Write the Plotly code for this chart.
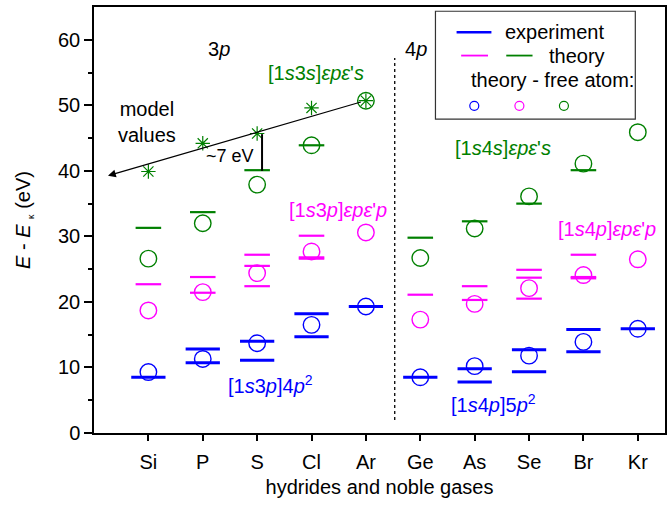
import plotly.graph_objects as go

elements = ["Si", "P", "S", "Cl", "Ar", "Ge", "As", "Se", "Br", "Kr"]

# experiment [1snp](n+1)p^2 levels (blue bars)
exp_levels = [[8.5], [12.8, 10.7], [14.0, 11.1], [18.2, 14.7], [19.3],
              [8.5], [9.8, 7.8], [12.7, 9.35], [15.8, 12.4], [15.9]]
# theory [1snp] eps p eps' p (magenta bars)
thp_levels = [[22.7], [23.8, 21.4], [27.2, 25.5, 22.4], [30.1, 26.8, 26.6], [],
              [21.1], [22.4, 20.3], [24.9, 23.7, 20.5], [27.2, 23.8, 23.6], []]
# theory [1sns] eps p eps' s (green bars)
ths_levels = [[31.3], [33.7], [40.1], [43.9], [],
              [29.8], [32.3], [35.0], [40.1], []]

# free-atom theory (circles)
free_blue = [9.3, 11.3, 13.7, 16.5, 19.3, 8.5, 10.2, 11.8, 13.9, 15.9]
free_magenta = [18.7, 21.5, 24.4, 27.7, 30.6, 17.3, 19.7, 22.1, 24.1, 26.5]
free_green = [26.6, 32.0, 37.9, 43.9, 50.7, 26.7, 31.2, 36.1, 41.1, 45.9]

# model values (asterisks) for 3p row
model_elements = ["Si", "P", "S", "Cl", "Ar"]
model_values = [39.9, 44.2, 45.7, 49.6, 50.7]

BLUE = "#0000ff"
MAG = "#ff00ff"
GREEN = "#008000"
FONT = "Liberation Sans, Arial, sans-serif"

xpos = {e: i + 1 for i, e in enumerate(elements)}

def seg_xy(levels, hw):
    xs, ys = [], []
    for e, lv in zip(elements, levels):
        c = xpos[e]
        for v in lv:
            xs += [c - hw, c + hw, None]
            ys += [v, v, None]
    return xs, ys

fig = go.Figure()

for levels, col, hw, lw in [(exp_levels, BLUE, 0.315, 3),
                            (thp_levels, MAG, 0.235, 2.2),
                            (ths_levels, GREEN, 0.235, 2.2)]:
    xs, ys = seg_xy(levels, hw)
    fig.add_trace(go.Scatter(x=xs, y=ys, mode="lines",
                             line=dict(color=col, width=lw),
                             showlegend=False, hoverinfo="skip"))

for vals, col in [(free_blue, BLUE), (free_magenta, MAG), (free_green, GREEN)]:
    fig.add_trace(go.Scatter(x=[xpos[e] for e in elements], y=vals, mode="markers",
                             marker=dict(symbol="circle-open", size=16.5,
                                         color=col, line=dict(color=col, width=1.4)),
                             showlegend=False, hoverinfo="skip"))

fig.add_trace(go.Scatter(x=[xpos[e] for e in model_elements], y=model_values,
                         mode="markers",
                         marker=dict(symbol="asterisk-open", size=12,
                                     color=GREEN, line=dict(color=GREEN, width=1.2)),
                         showlegend=False, hoverinfo="skip"))

shapes = []
# dotted separator
shapes.append(dict(type="line", xref="x", yref="y", x0=5.53, x1=5.53, y0=2.0, y1=57.2,
                   line=dict(color="black", width=1.3, dash="dot")))
# ~7 eV bracket
shapes.append(dict(type="line", xref="x", yref="y", x0=3.09, x1=3.09, y0=40.0, y1=45.6,
                   line=dict(color="black", width=2)))

# legend box (paper coords)
shapes.append(dict(type="rect", xref="paper", yref="paper", x0=0.598, x1=0.948,
                   y0=0.737, y1=0.990, line=dict(color="#333333", width=1.2),
                   fillcolor="white"))
shapes.append(dict(type="line", xref="paper", yref="paper", x0=0.635, x1=0.696,
                   y0=0.941, y1=0.941, line=dict(color=BLUE, width=2.5)))
shapes.append(dict(type="line", xref="paper", yref="paper", x0=0.643, x1=0.690,
                   y0=0.886, y1=0.886, line=dict(color=MAG, width=1.8)))
shapes.append(dict(type="line", xref="paper", yref="paper", x0=0.722, x1=0.768,
                   y0=0.886, y1=0.886, line=dict(color=GREEN, width=1.8)))
for cx, col in [(0.666, BLUE), (0.745, MAG), (0.823, GREEN)]:
    shapes.append(dict(type="circle", xref="paper", yref="paper",
                       xsizemode="pixel", ysizemode="pixel",
                       xanchor=cx, yanchor=0.768, x0=-4.5, x1=4.5, y0=-4.5, y1=4.5,
                       line=dict(color=col, width=1.2)))

eps = "<i>ε</i>"
ann = []
def txt(x, y, s, col="black", size=20, xanchor="center", xref="x", yref="y"):
    ann.append(dict(x=x, y=y, xref=xref, yref=yref, text=s, showarrow=False,
                    xanchor=xanchor, yanchor="middle",
                    font=dict(family=FONT, size=size, color=col)))

txt(2.29, 58.6, "3<i>p</i>")
txt(5.93, 58.6, "4<i>p</i>")
txt(4.08, 55.0, "[1<i>s</i>3<i>s</i>]" + eps + "<i>p</i>" + eps + "'<i>s</i>", GREEN)
txt(7.53, 43.5, "[1<i>s</i>4<i>s</i>]" + eps + "<i>p</i>" + eps + "'<i>s</i>", GREEN)
txt(4.48, 34.1, "[1<i>s</i>3<i>p</i>]" + eps + "<i>p</i>" + eps + "'<i>p</i>", MAG)
txt(9.43, 31.2, "[1<i>s</i>4<i>p</i>]" + eps + "<i>p</i>" + eps + "'<i>p</i>", MAG)
txt(3.25, 7.4, "[1<i>s</i>3<i>p</i>]4<i>p</i><sup>2</sup>", BLUE)
txt(7.34, 4.5, "[1<i>s</i>4<i>p</i>]5<i>p</i><sup>2</sup>", BLUE)
txt(0.41, 47.5, "model<br>values", xanchor="left")
txt(2.98, 42.3, "~7 eV", size=18, xanchor="right")

# legend texts
txt(0.717, 0.941, "experiment", xanchor="left", xref="paper", yref="paper")
txt(0.794, 0.886, "theory", xanchor="left", xref="paper", yref="paper")
txt(0.656, 0.829, "theory - free atom:", xanchor="left", xref="paper", yref="paper")

# arrow for model values trend
ann.append(dict(x=0.257, y=39.25, ax=4.99, ay=50.7, xref="x", yref="y",
                axref="x", ayref="y", showarrow=True, arrowhead=2, arrowsize=1.3,
                arrowwidth=1.2, arrowcolor="black", text=" "))

fig.update_layout(
    width=672, height=506,
    margin=dict(l=94, r=5, t=7, b=73),
    plot_bgcolor="white", paper_bgcolor="white",
    font=dict(family=FONT, size=20, color="black"),
    shapes=shapes, annotations=ann,
    xaxis=dict(range=[0, 10.5], tickvals=[xpos[e] for e in elements], ticktext=elements,
               showgrid=False, zeroline=False, showline=True, linecolor="black",
               linewidth=1.5, mirror=True, ticks="outside", ticklen=6, tickwidth=1.5,
               tickcolor="black", ticklabelstandoff=4,
               title=dict(text="hydrides and noble gases", standoff=8,
                          font=dict(size=20))),
    yaxis=dict(range=[0, 65], tickvals=[0, 10, 20, 30, 40, 50, 60],
               showgrid=False, zeroline=False, showline=True, linecolor="black",
               linewidth=1.5, mirror=True, ticks="outside", ticklen=8, tickwidth=1.5,
               tickcolor="black",
               minor=dict(tickvals=[5, 15, 25, 35, 45, 55], ticks="outside",
                          ticklen=4, tickwidth=1.5, tickcolor="black"),
               title=dict(text="<i>E</i> - <i>E</i> <sub><span style=\"font-size:9px\">κ</span></sub> (eV)",
                          standoff=22, font=dict(size=20))),
)

fig.write_html("out.html")
